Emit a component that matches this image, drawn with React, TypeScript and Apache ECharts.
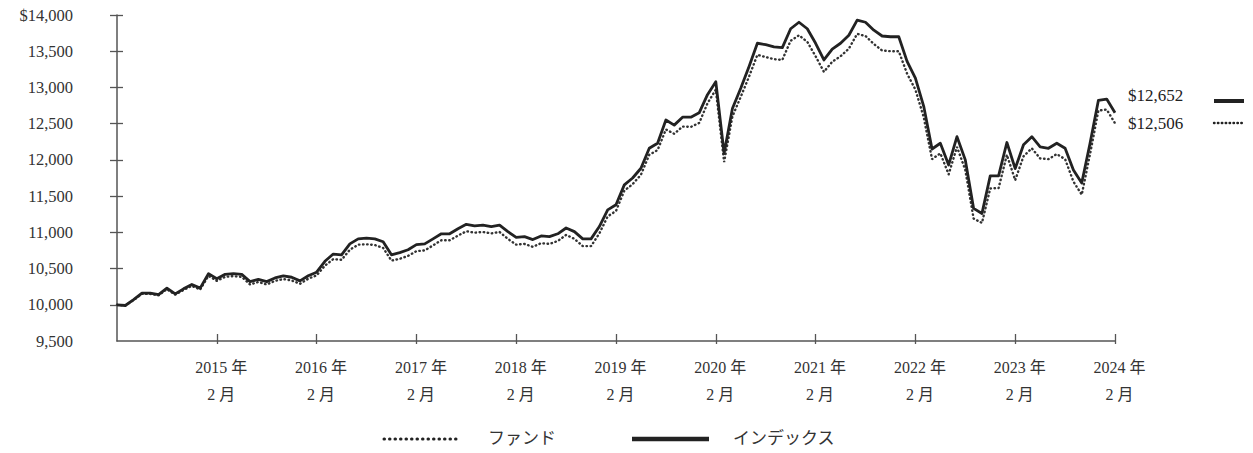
import React, { useEffect, useRef } from "react";
import * as echarts from "echarts";

// Monthly dates, Feb 2014 .. Feb 2024 (121 points)
const START_YEAR = 2014;
const START_MONTH = 2;
const months: string[] = [];
for (let k = 0; k <= 120; k++) {
  const m0 = START_MONTH - 1 + k;
  const y = START_YEAR + Math.floor(m0 / 12);
  const m = (m0 % 12) + 1;
  months.push(`${y}-${String(m).padStart(2, "0")}`);
}

const indexValues = [
  10000, 9990, 10070, 10160, 10160, 10140, 10230, 10150, 10220, 10280, 10230, 10430,
  10360, 10420, 10430, 10420, 10320, 10350, 10320, 10370, 10400, 10380, 10330, 10400,
  10450, 10600, 10700, 10690, 10840, 10910, 10920, 10910, 10870, 10690, 10720, 10760,
  10830, 10840, 10910, 10980, 10980, 11050, 11110, 11090, 11100, 11080, 11100, 11010,
  10930, 10940, 10900, 10950, 10940, 10980, 11060, 11010, 10910, 10910, 11080, 11310,
  11380, 11655, 11750, 11885, 12160, 12230, 12550, 12480, 12590, 12590, 12650, 12900,
  13080, 12090, 12710, 12990, 13290, 13610, 13590, 13560, 13550, 13810, 13900, 13810,
  13610, 13380, 13530, 13610, 13720, 13930, 13900, 13790, 13710, 13700, 13700, 13360,
  13130, 12740, 12150, 12230, 11930, 12320, 12000, 11330, 11260, 11780, 11780, 12240,
  11880, 12210, 12320, 12180, 12160, 12230, 12160, 11860, 11680, 12230, 12820, 12840,
  12652,
];

const fundValues = [
  10000, 9990, 10065, 10150, 10150, 10130, 10215, 10140, 10205, 10260, 10210, 10400,
  10330, 10385, 10395, 10385, 10280, 10315, 10280, 10330, 10355, 10335, 10290, 10360,
  10405, 10540, 10630, 10620, 10760, 10830, 10835, 10825, 10785, 10610, 10635, 10675,
  10740, 10750, 10820, 10890, 10890, 10955, 11015, 10995, 11005, 10985, 11005, 10910,
  10830, 10840, 10800, 10850, 10840, 10880, 10965, 10910, 10810, 10810, 10985, 11220,
  11295, 11575, 11665, 11795, 12070, 12135, 12420, 12360, 12460, 12455, 12510, 12780,
  12970, 11970, 12600, 12870, 13150, 13450, 13420, 13390, 13380, 13645, 13720, 13630,
  13430, 13215, 13355, 13430, 13535, 13740, 13710, 13600, 13510, 13500, 13500, 13190,
  12970, 12590, 12010, 12090, 11800, 12180, 11860, 11190, 11130, 11605, 11610, 12070,
  11720, 12050, 12160, 12020, 12010, 12080, 12010, 11700, 11520, 12080, 12680, 12695,
  12506,
];

const seriesNames = ["ファンド", "インデックス"];
const endLabels = ["$12,652", "$12,506"];
const yTicks = [10000, 10500, 11000, 11500, 12000, 12500, 13000, 13500, 14000];

const SERIF = '"Liberation Serif", "Noto Sans CJK JP", serif';
const INK = "#222";
const AXIS = "#555";

function fmtY(v: number) {
  const s = Math.round(v).toLocaleString("en-US");
  return v === 14000 ? "$" + s : s;
}

function fmtX(v: string) {
  const [y] = v.split("-");
  return `${y} 年\n2 月`;
}

const isYearTick = (i: number) => i > 0 && i % 12 === 0;

export default function App() {
  const ref = useRef<HTMLDivElement>(null);
  useEffect(() => {
    if (!ref.current) return;
    const chart = echarts.init(ref.current, undefined, { renderer: "svg" });
    const yBase = {
      type: "value" as const,
      min: 9500,
      max: 14000,
      interval: 500,
      splitLine: { show: false },
    };
    chart.setOption({
      animation: false,
      backgroundColor: "#fff",
      grid: { left: 117, right: 138, top: 15, bottom: 112 },
      xAxis: [
        {
          type: "category",
          data: months,
          boundaryGap: false,
          axisLine: { show: true, lineStyle: { color: AXIS, width: 1.5 } },
          axisTick: {
            show: true,
            inside: true,
            length: 7,
            interval: (i: number) => isYearTick(i),
            lineStyle: { color: AXIS, width: 1.3 },
          },
          axisLabel: {
            interval: (i: number) => isYearTick(i),
            formatter: fmtX,
            color: "#333",
            fontFamily: SERIF,
            fontSize: 16,
            lineHeight: 27,
            margin: 13,
            align: "center",
            padding: [0, 0, 0, 9],
          },
          splitLine: { show: false },
        },
        {
          type: "category",
          data: months,
          position: "bottom",
          boundaryGap: false,
          axisLine: { show: false },
          axisTick: {
            show: true,
            inside: false,
            length: 3,
            interval: (i: number) => isYearTick(i),
            lineStyle: { color: AXIS, width: 1.3 },
          },
          axisLabel: { show: false },
          splitLine: { show: false },
        },
      ],
      yAxis: [
        {
          ...yBase,
          axisLine: { show: true, lineStyle: { color: AXIS, width: 1.5 } },
          axisTick: {
            show: true,
            inside: false,
            length: 7,
            customValues: yTicks,
            lineStyle: { color: AXIS, width: 1.3 },
          },
          axisLabel: {
            formatter: fmtY,
            color: "#333",
            fontFamily: SERIF,
            fontSize: 16.5,
            margin: 44,
          },
        },
        {
          ...yBase,
          position: "left",
          axisLine: { show: false },
          axisTick: {
            show: true,
            inside: true,
            length: 6,
            customValues: yTicks,
            lineStyle: { color: AXIS, width: 1.3 },
          },
          axisLabel: { show: false },
        },
      ],
      series: [
        {
          name: seriesNames[0],
          type: "line",
          data: fundValues,
          showSymbol: false,
          symbol: "none",
          lineStyle: { color: "#333", width: 2.4, type: [0.5, 3.6], cap: "round" },
          z: 2,
        },
        {
          name: seriesNames[1],
          type: "line",
          data: indexValues,
          showSymbol: false,
          symbol: "none",
          lineStyle: { color: INK, width: 2.8, join: "round" },
          z: 3,
        },
      ],
      graphic: [
        {
          type: "text",
          left: 1128,
          top: 87,
          style: { text: endLabels[0], font: `17px ${SERIF}`, fill: "#222" },
        },
        {
          type: "text",
          left: 1128,
          top: 115,
          style: { text: endLabels[1], font: `17px ${SERIF}`, fill: "#222" },
        },
        {
          type: "line",
          shape: { x1: 1214, y1: 101, x2: 1244, y2: 101 },
          style: { stroke: INK, lineWidth: 4 },
        },
        {
          type: "line",
          shape: { x1: 1214, y1: 123, x2: 1245, y2: 123 },
          style: { stroke: INK, lineWidth: 2.4, lineDash: [0.5, 3.4], lineCap: "round" },
        },
        {
          type: "line",
          shape: { x1: 384, y1: 439, x2: 458, y2: 439 },
          style: { stroke: INK, lineWidth: 3, lineDash: [0.5, 5], lineCap: "round" },
        },
        {
          type: "text",
          left: 488,
          top: 430,
          style: { text: seriesNames[0], font: `17px ${SERIF}`, fill: "#333" },
        },
        {
          type: "line",
          shape: { x1: 632, y1: 439, x2: 709, y2: 439 },
          style: { stroke: INK, lineWidth: 4.5 },
        },
        {
          type: "text",
          left: 733,
          top: 430,
          style: { text: seriesNames[1], font: `17px ${SERIF}`, fill: "#333" },
        },
      ],
    });
    return () => chart.dispose();
  }, []);
  return (
    <div
      ref={ref}
      style={{ position: "absolute", left: 0, top: 0, width: 1253, height: 453, background: "#fff" }}
    />
  );
}
